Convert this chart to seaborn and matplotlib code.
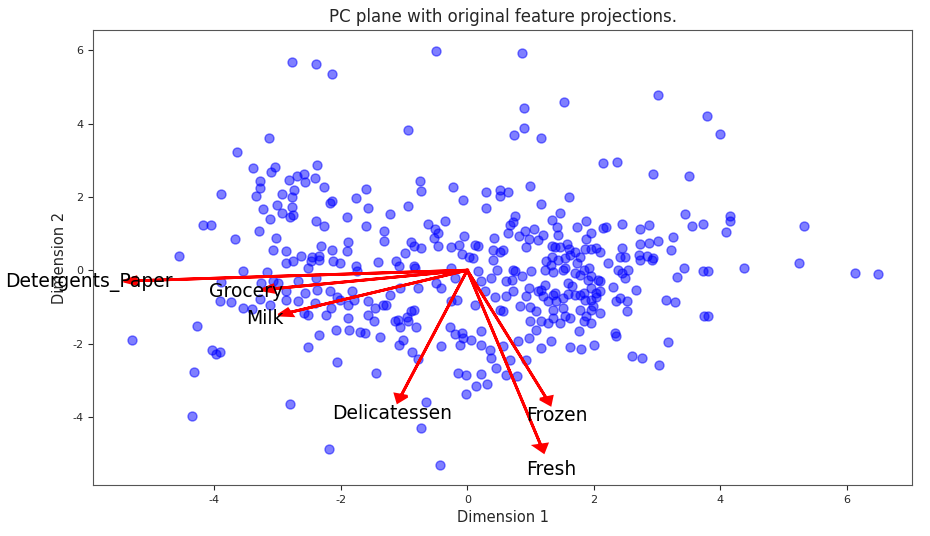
import pandas as pd
import matplotlib
matplotlib.use("Agg")
import matplotlib.pyplot as plt
import seaborn as sns

# Customer points in the reduced PCA space
dim1 = [
    -2.78, -3.13, -3.64, -3.39, -3.04, -3.10, -3.28, -2.82, -2.69, -3.28, -3.89, -3.34, -2.93, -2.74, -2.77,
    -3.01, -2.77, -3.23, -2.93, -2.80, -2.75, -3.12, -4.18, -4.05, -3.29, -3.67, -3.02, -3.07, -2.86, -4.56,
    -2.39, -2.14, -0.49, -0.93, -2.37, -2.59, -2.56, -2.41, -2.26, -2.17, -2.14, -1.76, -1.60, -1.57, -1.91,
    -2.39, -2.26, -1.60, -1.22, -0.93, -0.74, -0.73, -0.22, -0.06, 0.30, 0.30, 0.52, 0.52, -1.31, -1.31,
    -0.62, -0.36, -0.51, -0.47, -0.52, -0.05, 0.43, -2.31, -2.14, -1.88, -1.91, -0.89, -0.85, -0.73, -0.47,
    -0.25, -0.13, -0.09, 0.13, 0.17, 0.40, 0.52, -0.98, -2.63, -2.45, -2.34,
    0.87, 1.53, 3.01, 3.80, 0.89, 0.90, 0.74, 1.17, 2.15, 2.37, 2.94, 3.50, 1.00, 0.65, 1.17,
    1.61, 0.76, 0.73, 0.68, 1.46, 1.34, 1.42, 1.88, 1.74, 2.15, 2.20, 2.45, 2.74, 2.88, 3.45,
    3.56, 3.73, 3.26, 0.65, 0.82, 0.92, 1.06, 1.20, 1.12, 0.97, 1.44, 1.96, 1.88, 2.74, 2.88,
    3.01, 3.23, 0.93, 1.34, 1.38, 1.57, 1.61, 1.96, 2.04, 1.87, 2.44, 2.71, 2.85,
    3.99, 4.16, 4.16, 4.10, 5.33, 3.81, 4.38, 5.25, 6.14, 6.49, 3.81,
    -3.54, -3.16, -3.89, -3.26, -3.07, -2.99, -3.91, -3.73, -3.54, -3.40, -3.28, -3.12, -2.86, -2.86, -2.75,
    -2.86, -4.27, -5.30, -4.03, -3.91, -3.97, -4.32, -4.35, -2.80,
    -2.47, -2.34, -2.12, -2.01, -1.76, -1.74, -1.41, -1.12, -1.08, -0.85, -0.82, -2.52, -2.67, -2.39, -2.56,
    -2.37, -2.17, -2.06, -2.01, -1.88, -1.82, -1.79, -2.67, -2.59, -2.52, -2.23, -2.15, -1.88, -2.07, -1.87,
    -1.69, -1.61, -2.34, -2.52, -2.06, -1.57, -1.46, -1.57, -1.47, -1.33, -1.28, -1.23, -1.38, -1.14, -1.09,
    -0.93, -0.81, -0.89, -0.85, -1.01, -1.08, -0.87, -0.78, -1.44, -0.78, -0.49, -0.41, -0.25, -0.17, -0.27,
    -0.19, -0.09, -0.06, -0.11, 0.06, 0.21, 0.21, -0.41, -0.14, -0.02, -0.02, 0.14, 0.21, 0.32, 0.36,
    0.38, 0.46, 0.13, 0.28, 0.44, 0.52, 0.17, 0.22, 0.38, -0.66, -0.73, -2.18, -0.43, -0.25, -0.19,
    0.76, 0.87, 1.01, 1.25, 1.33, 1.44, 1.55, 1.71, 1.84, 1.93, 1.96, 2.10, 2.23, 2.31, 2.44,
    2.50, 2.55, 2.67, 2.74, 2.93, 3.15, 3.29, 3.32, 3.43, 3.73, 3.75, 3.18, 3.04, 2.61, 2.77,
    0.62, 0.73, 0.62, 0.57, 0.97, 0.93, 1.12, 1.20, 1.28, 1.36, 1.41, 1.52, 1.60, 1.65, 1.71,
    1.79, 1.87, 1.95, 1.95, 1.99, 2.04, 2.10, 0.84, 1.00, 1.09, 1.36, 1.52, 1.55, 1.79, 1.84,
    1.88, 1.96, 2.10, 1.95, 1.00, 1.16, 1.28, 1.47, 1.09, 1.76, 0.81, 0.97, 1.16, 1.33, 1.63,
    1.80, 2.01, 2.34, 2.36, 2.36, 2.52, 2.52, 2.42, 0.57, 0.68, 0.93, 0.62, 0.78,
    0.57, 0.73, 1.23, 1.36, 1.52, 1.34, 1.55, 1.63, 1.71, 1.79, 1.74, 1.47, 2.10, 2.42, 2.50,
    2.39, 2.94, 0.71, 1.23, 1.60, 1.91, 2.07, 1.79, 1.16, 1.39, 1.84, 2.03, 1.36, 1.63,
    0.02, 0.09, 0.40, 0.47, -1.06, -2.41, -0.95, -1.06,
]
dim2 = [
    5.67, 3.60, 3.22, 2.78, 2.81, 2.67, 2.43, 2.45, 2.56, 2.23, 2.07, 2.02, 2.07, 2.18, 1.99,
    1.77, 1.72, 1.66, 1.55, 1.44, 1.50, 1.39, 1.23, 1.23, 1.06, 0.84, 0.87, 0.54, 0.52, 0.38,
    5.61, 5.34, 5.99, 3.81, 2.86, 2.62, 2.40, 2.51, 2.26, 1.83, 1.88, 1.96, 2.21, 1.69, 1.44,
    1.34, 1.20, 1.20, 1.53, 1.74, 2.43, 2.15, 2.26, 1.91, 2.13, 1.69, 2.18, 2.02, 1.06, 0.79,
    1.25, 1.34, 1.12, 1.01, 0.87, 0.93, 0.87, 0.65, 0.54, 0.76, 0.52, 0.76, 0.65, 0.60, 0.65,
    0.63, 0.68, 0.44, 0.68, 0.65, 0.54, 0.49, 0.46, 0.38, 0.35, 0.38,
    5.91, 4.60, 4.77, 4.20, 4.41, 3.87, 3.68, 3.60, 2.92, 2.94, 2.62, 2.56, 2.29, 2.13, 1.80,
    1.99, 1.47, 1.31, 1.23, 1.55, 1.36, 1.17, 1.34, 1.17, 1.14, 1.17, 1.25, 1.12, 1.23, 1.53,
    1.20, 1.25, 0.90, 1.01, 0.93, 1.06, 1.12, 0.95, 0.82, 0.84, 0.95, 1.01, 0.84, 0.71, 0.74,
    0.79, 0.54, 0.63, 0.65, 0.63, 0.71, 0.57, 0.57, 0.60, 0.57, 0.60, 0.41, 0.38,
    3.71, 1.47, 1.34, 1.04, 1.20, -0.03, 0.05, 0.19, -0.08, -0.11, -1.25,
    -0.03, -0.05, -0.33, -0.35, -0.30, -0.35, -0.84, -0.87, -1.04, -1.06, -0.79, -0.95, -0.82, -0.57, 0.25,
    0.19, -1.53, -1.91, -2.18, -2.23, -2.29, -2.78, -3.98, -3.65,
    0.25, 0.27, 0.25, 0.19, 0.11, -0.03, 0.22, 0.25, 0.11, 0.11, 0.05, 0.05, -0.30, -0.22, -0.63,
    -0.54, -0.57, -0.74, -0.82, -0.95, -0.57, -0.82, -0.84, -1.17, -1.23, -1.23, -1.04, -1.31, -1.63, -1.63,
    -1.69, -1.72, -1.77, -2.10, -2.51, -0.84, -1.04, -1.23, -1.39, -0.95, -0.95, -0.68, -1.83, -1.39, -1.36,
    -1.39, -1.55, -1.12, -1.09, -1.91, -2.04, -2.23, -2.43, -2.81, -0.49, -0.35, -0.49, -0.84, -0.82, -1.55,
    -1.74, -1.72, -1.85, -2.04, -1.91, -1.66, -2.04, -2.07, -2.81, -2.86, -3.38, -3.16, -2.83, -3.11, -2.18,
    -2.40, -2.67, -0.95, -0.57, -0.74, -1.09, -0.03, -0.30, -0.22, -3.60, -4.31, -4.88, -5.31, 0.05, -0.22,
    -0.03, -0.16, -0.03, 0.25, 0.14, 0.27, 0.05, -0.08, 0.00, 0.05, -0.16, -0.30, 0.19, -0.46, -0.08,
    -0.22, 0.00, -0.54, 0.27, 0.27, -0.82, -0.87, -0.19, 0.05, -0.03, -1.25, -1.96, -2.59, -2.34, -2.40,
    -0.30, -0.57, -0.71, -1.12, -0.49, -0.71, -0.57, -0.71, -0.84, -0.68, -0.84, -0.76, -0.65, -0.44, -0.68,
    -0.68, -0.82, -0.49, -0.82, -0.98, -0.63, -0.57, -0.98, -1.01, -1.12, -1.09, -1.04, -1.25, -1.09, -1.39,
    -1.25, -1.09, -1.17, -1.44, -1.39, -1.39, -1.44, -1.44, -1.63, -1.66, -1.93, -1.85, -2.13, -1.93, -2.10,
    -2.15, -2.04, -1.72, -1.80, -0.84, -0.84, -1.12, -0.76, -2.07, -2.45, -2.45, -2.86, -2.89,
    0.54, 0.00, 0.00, -0.05, 0.00, 0.35, 0.33, 0.41, 0.49, 0.35, 0.19, 0.63, 0.49, 0.35, 0.35,
    0.00, 0.33, -0.27, -0.41, -0.35, -0.27, -0.27, -0.14, -0.54, -0.63, -0.63, -0.74, -1.31, -1.31,
    0.35, 0.33, 0.27, 0.00, -0.49, -0.90, -1.28, -1.55,
]

# Feature weights on the two principal components
features = ["Fresh", "Milk", "Grocery", "Frozen", "Detergents_Paper", "Delicatessen"]
weight_dim1 = [0.166, -0.400, -0.437, 0.178, -0.748, -0.149]
weight_dim2 = [-0.681, -0.164, -0.072, -0.497, -0.041, -0.487]

reduced = pd.DataFrame({"Dimension 1": dim1, "Dimension 2": dim2})

sns.set_style("ticks")
plt.rcParams["font.family"] = ["DejaVu Sans"]
plt.rcParams["axes.unicode_minus"] = False

fig, ax = plt.subplots(figsize=(9.3, 5.36), dpi=100)
fig.subplots_adjust(left=0.1, right=0.981, top=0.944, bottom=0.095)

sns.scatterplot(data=reduced, x="Dimension 1", y="Dimension 2", color="b",
                edgecolor="b", s=42, alpha=0.5, linewidth=1, ax=ax)

# Projections of the original features
arrow_size, text_pos = 7.0, 8.0
for name, w1, w2 in zip(features, weight_dim1, weight_dim2):
    ax.arrow(0, 0, arrow_size * w1, arrow_size * w2, head_width=0.2,
             head_length=0.2, linewidth=2, color="red")
    ax.text(w1 * text_pos, w2 * text_pos, name, color="black",
            ha="center", va="center", fontsize=13.5)

ax.set_xlim(-5.92, 7.04)
ax.set_ylim(-5.86, 6.55)
ax.set_xlabel("Dimension 1", fontsize=10.5)
ax.set_ylabel("Dimension 2", fontsize=10.5)
ax.set_title("PC plane with original feature projections.", fontsize=12)
ax.tick_params(labelsize=8)
for spine in ax.spines.values():
    spine.set_color("#555555")

fig.savefig("out.png", dpi=100)
